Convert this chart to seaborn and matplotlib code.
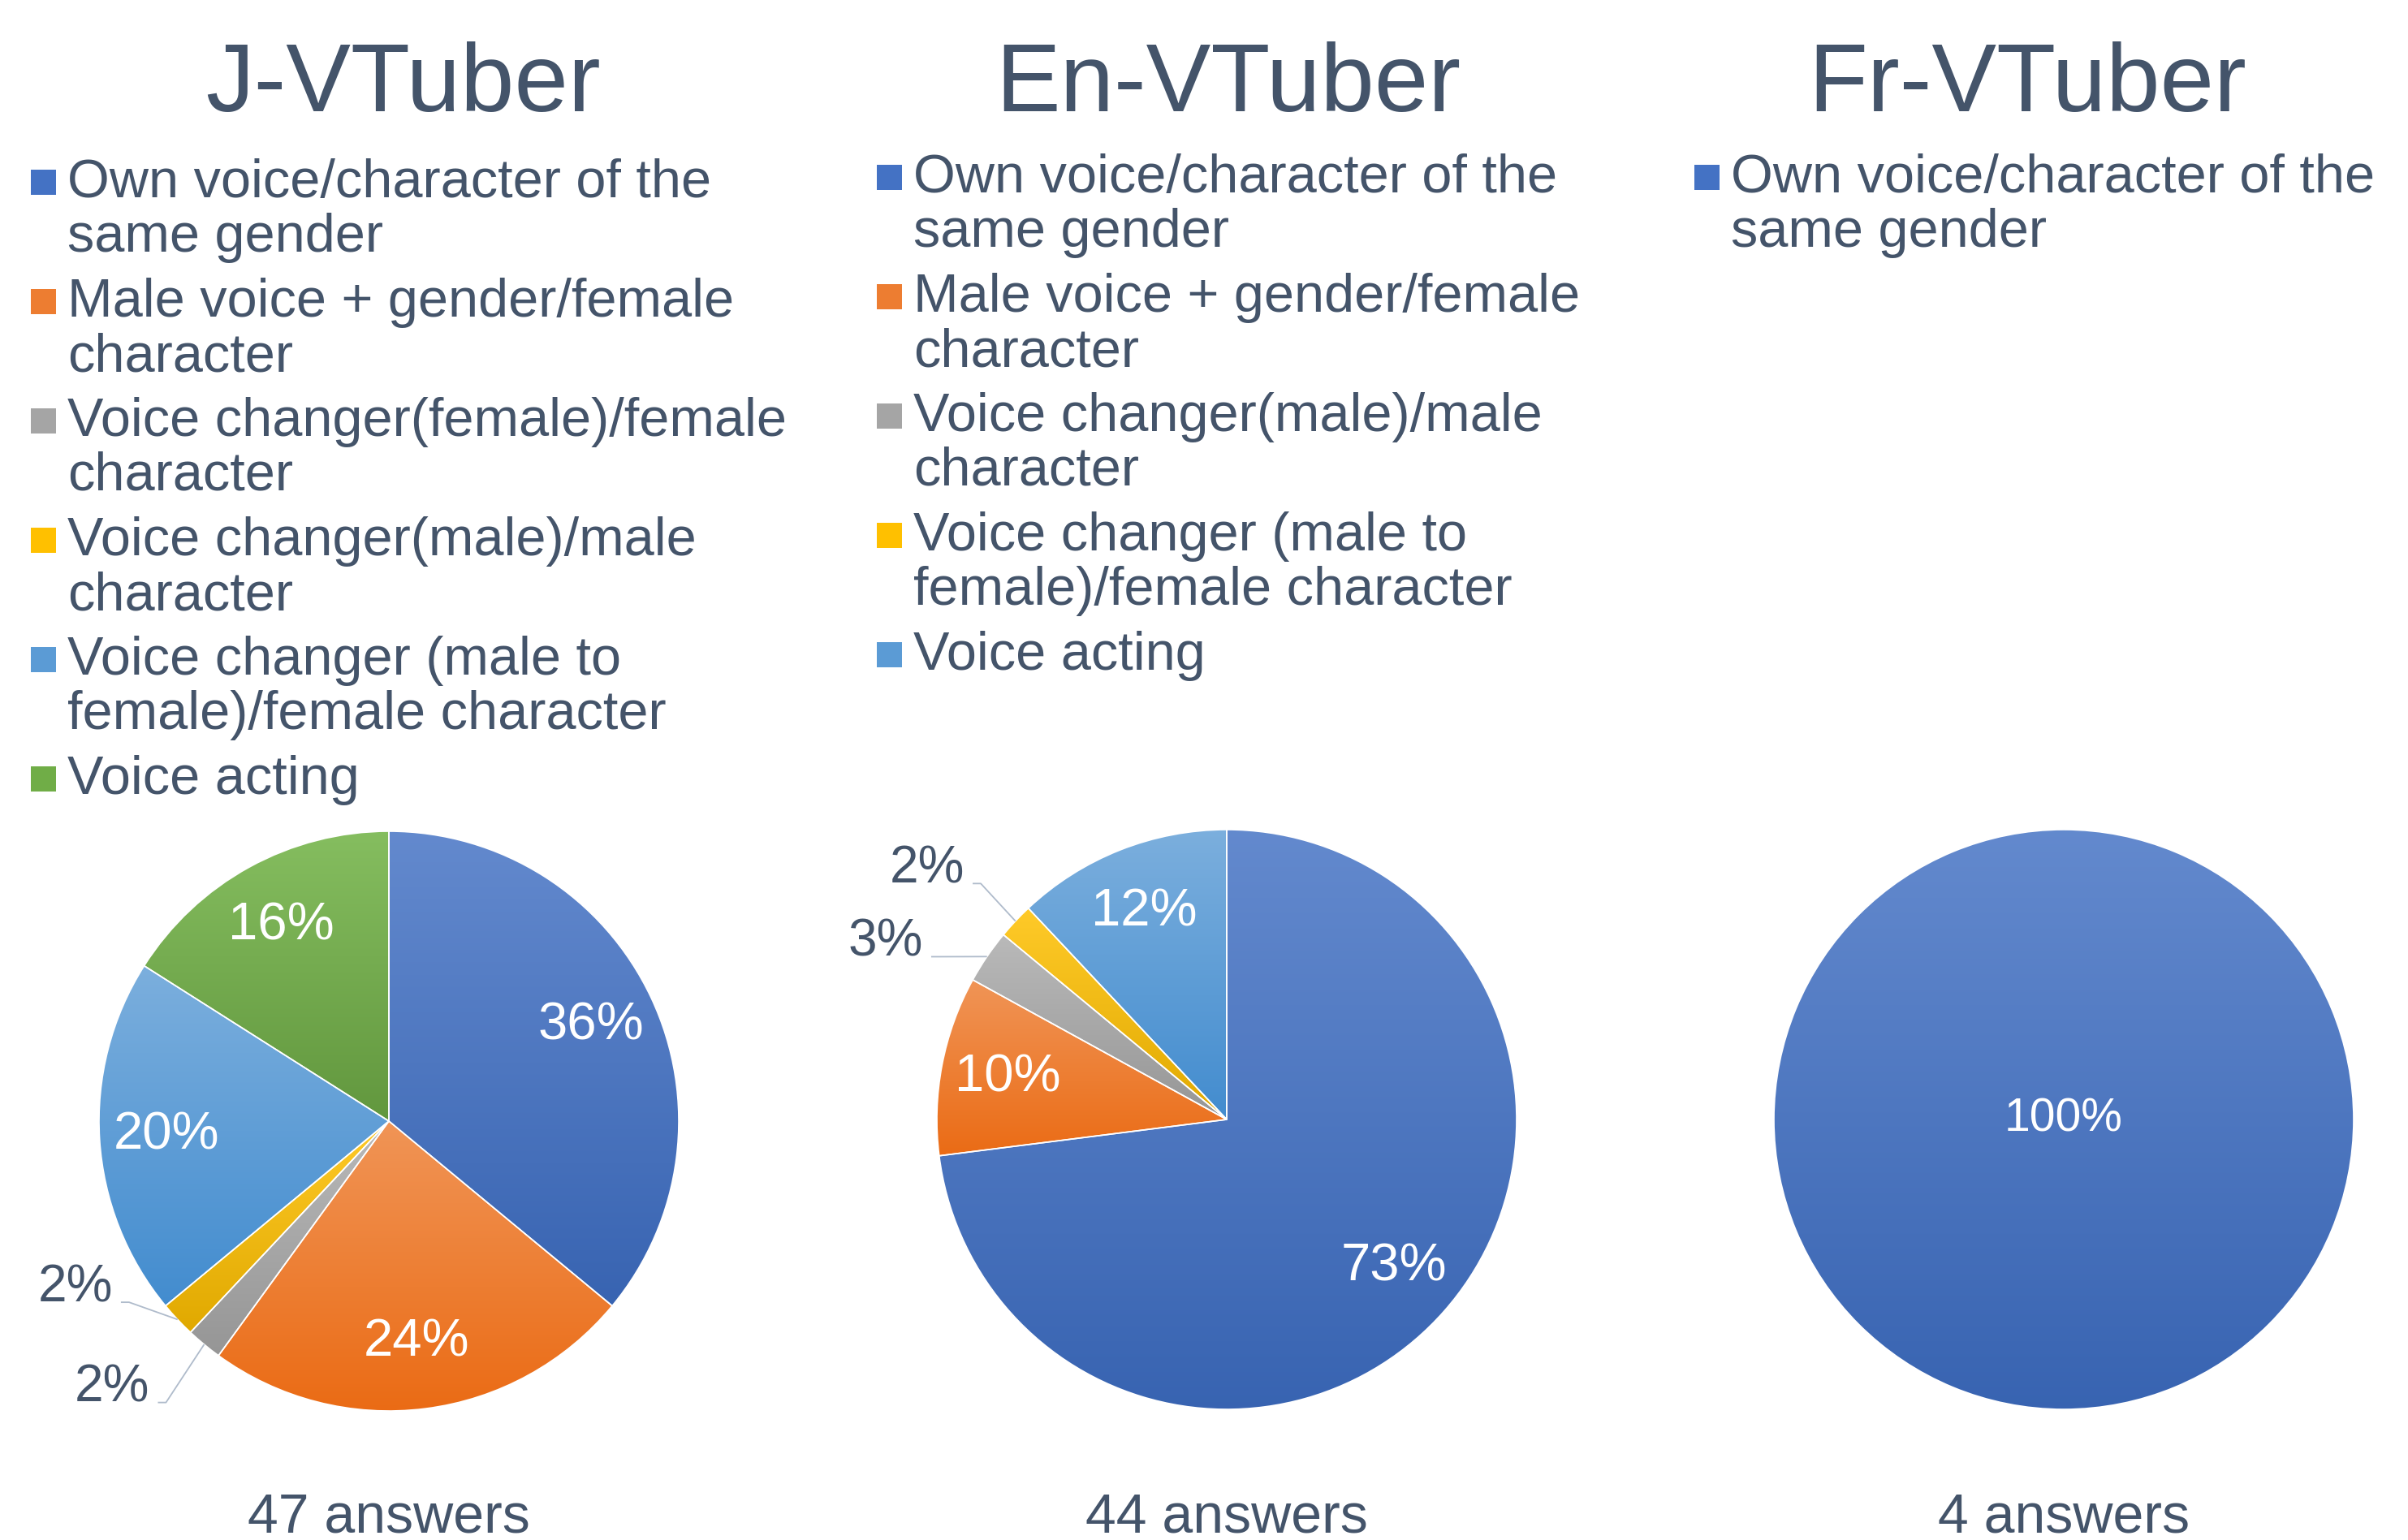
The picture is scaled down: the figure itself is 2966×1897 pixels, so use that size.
import colorsys

import numpy as np
import matplotlib
matplotlib.use("Agg")
import matplotlib.pyplot as plt
from matplotlib.colors import LinearSegmentedColormap, to_rgb
from matplotlib.patches import Rectangle
import seaborn as sns

# ---------------------------------------------------------------- data
CHART_TITLES = ["J-VTuber", "En-VTuber", "Fr-VTuber"]
ANSWER_COUNTS = [47, 44, 4]

J_CATEGORIES = [
    "Own voice/character of the\nsame gender",
    "Male voice + gender/female\ncharacter",
    "Voice changer(female)/female\ncharacter",
    "Voice changer(male)/male\ncharacter",
    "Voice changer (male to\nfemale)/female character",
    "Voice acting",
]
J_SHARES = [36, 24, 2, 2, 20, 16]

EN_CATEGORIES = [
    "Own voice/character of the\nsame gender",
    "Male voice + gender/female\ncharacter",
    "Voice changer(male)/male\ncharacter",
    "Voice changer (male to\nfemale)/female character",
    "Voice acting",
]
EN_SHARES = [73, 10, 3, 2, 12]

FR_CATEGORIES = ["Own voice/character of the\nsame gender"]
FR_SHARES = [100]

# office theme accents, used in order
OFFICE_COLORS = ["#4472C4", "#ED7D31", "#A5A5A5", "#FFC000", "#5B9BD5", "#70AD47"]

# ---------------------------------------------------------------- layout
W, H = 2966, 1897
TEXT_COLOR = "#44546A"
LEADER_COLOR = "#AFBBCB"
RADIUS = 357
LINE_STEP = 67
ENTRY_GAP = 13

PANELS = [
    dict(title_x=496, legend_x=83, legend_y=243, cx=479, cy=1381, pct_size=47),
    dict(title_x=1513, legend_x=1125, legend_y=237, cx=1511, cy=1379, pct_size=47),
    dict(title_x=2497, legend_x=2132, legend_y=237, cx=2542, cy=1379, pct_size=41),
]

# small slices get an outside label: offset from the wedge's outer midpoint (radius units)
OUTSIDE_OFFSETS = {
    (0, 2): (-0.317, -0.150),
    (0, 3): (-0.353, 0.110),
    (1, 2): (-0.350, 0.050),
    (1, 3): (-0.305, 0.180),
}

sns.set_theme(style="white")
plt.rcParams["font.family"] = ["Liberation Sans", "DejaVu Sans"]


def shade(color, dl):
    h, l, s = colorsys.rgb_to_hls(*to_rgb(color))
    return colorsys.hls_to_rgb(h, min(max(l + dl, 0.0), 1.0), s)


def draw_legend(fig, x, y, labels, colors):
    for label, color in zip(labels, colors):
        fig.add_artist(Rectangle(((x - 45) / W, 1 - (y - 3) / H), 31 / W, 31 / H,
                                 transform=fig.transFigure, facecolor=color,
                                 edgecolor="none"))
        for line in label.split("\n"):
            fig.text(x / W, 1 - y / H, line, ha="left", va="baseline",
                     fontsize=48, color=TEXT_COLOR)
            y += LINE_STEP
        y += ENTRY_GAP


def draw_pie(ax, shares, colors, panel_idx, pct_size):
    wedges, _, autotexts = ax.pie(
        shares, colors=colors, startangle=90, counterclock=False, radius=1,
        autopct=lambda p: f"{p:.0f}%" if p >= 5 else "",
        pctdistance=0.77 if len(shares) > 1 else 0.0,
        wedgeprops=dict(edgecolor="white", linewidth=1.2),
        textprops=dict(color="white", fontsize=pct_size))

    # vertical gradient per slice, light on top
    grad = np.linspace(0, 1, 256).reshape(-1, 1)
    for w, c in zip(wedges, colors):
        (x0, y0), (x1, y1) = w.get_path().get_extents().get_points()
        cmap = LinearSegmentedColormap.from_list("g", [shade(c, -0.06), shade(c, 0.08)])
        im = ax.imshow(grad, cmap=cmap, extent=[x0, x1, y0, y1], origin="lower",
                       aspect="auto", zorder=1, interpolation="bicubic")
        im.set_clip_path(w)
        w.set_facecolor("none")
        w.set_zorder(2)
    for t in autotexts:
        t.set_zorder(3)

    outside = []
    for i, (share, w) in enumerate(zip(shares, wedges)):
        if (panel_idx, i) not in OUTSIDE_OFFSETS:
            continue
        mid = np.deg2rad((w.theta1 + w.theta2) / 2)
        ex, ey = np.cos(mid), np.sin(mid)
        dx, dy = OUTSIDE_OFFSETS[(panel_idx, i)]
        t = ax.text(ex + dx, ey + dy, f"{share:.0f}%", ha="center", va="center",
                    fontsize=46, color=TEXT_COLOR)
        outside.append((t, ex, ey))

    ax.set_xlim(-1, 1)
    ax.set_ylim(-1, 1)
    ax.set_aspect("equal")
    ax.axis("off")
    return outside


def draw_leaders(fig, ax, outside):
    # leader: short horizontal tick at the label's baseline, then to the slice edge
    renderer = fig.canvas.get_renderer()
    inv = ax.transData.inverted()
    for t, ex, ey in outside:
        bb = t.get_window_extent(renderer)
        y = bb.y0 + 0.2 * bb.height
        p0 = inv.transform((bb.x1 + 10, y))
        p1 = inv.transform((bb.x1 + 20, y))
        ax.plot([p0[0], p1[0], ex], [p0[1], p1[1], ey], color=LEADER_COLOR,
                lw=1.3, solid_capstyle="butt", clip_on=False, zorder=4)


fig = plt.figure(figsize=(W / 100, H / 100), dpi=100)

all_categories = [J_CATEGORIES, EN_CATEGORIES, FR_CATEGORIES]
all_shares = [J_SHARES, EN_SHARES, FR_SHARES]

pending = []
for k, (title, n, cats, shares, p) in enumerate(
        zip(CHART_TITLES, ANSWER_COUNTS, all_categories, all_shares, PANELS)):
    colors = OFFICE_COLORS[:len(shares)]
    fig.text(p["title_x"] / W, 1 - 137 / H, title, ha="center", va="baseline",
             fontsize=86, color=TEXT_COLOR)
    draw_legend(fig, p["legend_x"], p["legend_y"], cats, colors)

    ax = fig.add_axes([(p["cx"] - RADIUS) / W, 1 - (p["cy"] + RADIUS) / H,
                       2 * RADIUS / W, 2 * RADIUS / H])
    pending.append((ax, draw_pie(ax, shares, colors, k, p["pct_size"])))

    fig.text(p["cx"] / W, 1 - 1888 / H, f"{n} answers", ha="center", va="baseline",
             fontsize=49, color=TEXT_COLOR)

fig.canvas.draw()
for ax, outside in pending:
    draw_leaders(fig, ax, outside)

fig.savefig("out.png", dpi=100)
